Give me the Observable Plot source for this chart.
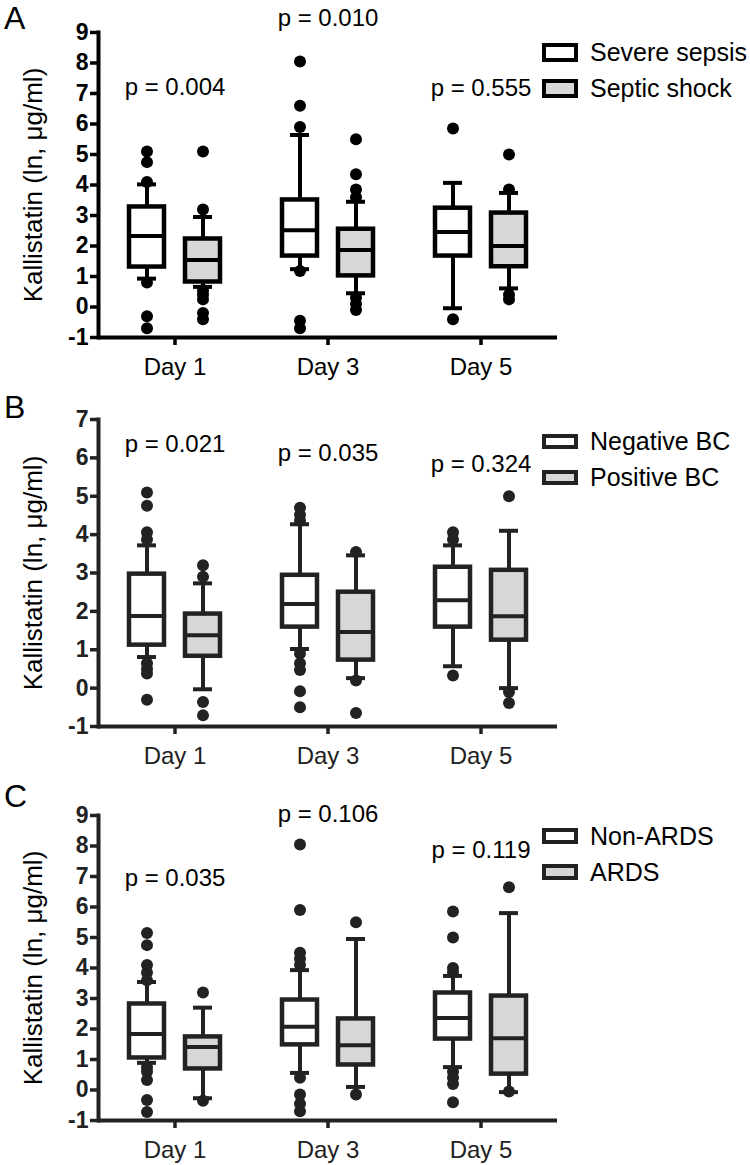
<!DOCTYPE html>
<html>
<head>
<meta charset="utf-8">
<script src="https://cdn.jsdelivr.net/npm/d3@7"></script>
<script src="https://cdn.jsdelivr.net/npm/@observablehq/plot@0.6"></script>
<style>
  body { margin: 0; background: #fff; font-family: "Liberation Sans", Arial, sans-serif; }
  #page { position: relative; width: 750px; height: 1165px; overflow: hidden; background: #fff; }
  .panel { position: absolute; left: 0; }
  .letter { position: absolute; left: 4px; font-size: 32px; line-height: 1; color: #000; }
  .leg { position: absolute; left: 542px; display: flex; align-items: center; height: 30px; font-size: 25px; line-height: 1; color: #000; white-space: nowrap; }
  .sw { box-sizing: border-box; border: 4px solid #000; margin-right: 12px; }
</style>
</head>
<body>
<div id="page"></div>
<script>
// ---------- data ----------
const days = ["Day 1", "Day 3", "Day 5"];
const yTitle = "Kallistatin (ln, μg/ml)";

// order of every stats array: Day1-g1, Day1-g2, Day3-g1, Day3-g2, Day5-g1, Day5-g2
// Panel A
const groupsA = ["Severe sepsis", "Septic shock"];
const q1A  = [1.31, 0.82, 1.67, 1.02, 1.67, 1.32];
const medA = [2.33, 1.54, 2.52, 1.87, 2.46, 2.00];
const q3A  = [3.28, 2.23, 3.51, 2.55, 3.24, 3.08];
const loA  = [0.93, 0.66, 1.24, 0.45, -0.04, 0.61];
const hiA  = [4.02, 2.95, 5.64, 3.45, 4.07, 3.74];
const outA = [
  [5.1, 4.75, 4.1, 0.8, -0.3, -0.7],
  [5.1, 3.2, 0.55, 0.4, 0.25, -0.2, -0.4],
  [8.05, 6.6, 5.9, 1.18, -0.45, -0.7],
  [5.5, 4.35, 3.85, 3.6, 0.3, 0.1, -0.1],
  [5.85, -0.4],
  [5.0, 3.85, 0.4, 0.25]
];
const pA = ["p = 0.004", "p = 0.010", "p = 0.555"];
const yTicksA = [-1, 0, 1, 2, 3, 4, 5, 6, 7, 8, 9];

// Panel B
const groupsB = ["Negative BC", "Positive BC"];
const q1B  = [1.12, 0.83, 1.59, 0.73, 1.59, 1.25];
const medB = [1.88, 1.38, 2.19, 1.46, 2.29, 1.87];
const q3B  = [2.97, 1.93, 2.94, 2.50, 3.15, 3.07];
const loB  = [0.81, -0.03, 1.02, 0.26, 0.57, 0.0];
const hiB  = [3.72, 2.73, 4.27, 3.46, 3.72, 4.10];
const outB = [
  [5.1, 4.75, 4.06, 3.87, 0.65, 0.5, 0.38, -0.3],
  [3.2, 2.9, -0.36, -0.71],
  [4.7, 4.52, 4.36, 0.9, 0.65, 0.47, -0.08, -0.5],
  [3.55, 0.2, -0.65],
  [4.06, 3.87, 0.33],
  [5.0, -0.1, -0.39]
];
const pB = ["p = 0.021", "p = 0.035", "p = 0.324"];
const yTicksB = [-1, 0, 1, 2, 3, 4, 5, 6, 7];

// Panel C
const groupsC = ["Non-ARDS", "ARDS"];
const q1C  = [1.05, 0.69, 1.48, 0.82, 1.67, 0.52];
const medC = [1.84, 1.41, 2.07, 1.47, 2.36, 1.70];
const q3C  = [2.82, 1.74, 2.95, 2.33, 3.18, 3.08];
const loC  = [0.89, -0.27, 0.56, 0.10, 0.75, -0.07];
const hiC  = [3.54, 2.70, 3.93, 4.95, 3.74, 5.80];
const outC = [
  [5.15, 4.75, 4.1, 3.85, 3.6, 0.75, 0.6, 0.33, -0.33, -0.72],
  [3.2, -0.35],
  [8.05, 5.9, 4.5, 4.3, 4.1, 0.4, -0.15, -0.45, -0.7],
  [5.5, -0.15],
  [5.85, 5.0, 4.0, 3.85, 0.6, 0.4, 0.2, -0.4],
  [6.65, -0.05]
];
const pC = ["p = 0.035", "p = 0.106", "p = 0.119"];
const yTicksC = [-1, 0, 1, 2, 3, 4, 5, 6, 7, 8, 9];

// ---------- layout (positions / styles) ----------
const boxFills = ["#ffffff", "#d6d7d8"];
const panels = [
  {letter: "A", top: 0, height: 387, marginTop: 32, marginBottom: 50, ink: "#000000",
   groups: groupsA, q1: q1A, med: medA, q3: q3A, lo: loA, hi: hiA, out: outA, p: pA, pY: [7.21, 9.46, 7.17],
   yTicks: yTicksA, letterTop: 2, legend: [52.5, 88.5], swH: 19},
  {letter: "B", top: 387, height: 389, marginTop: 32, marginBottom: 50, ink: "#222222",
   groups: groupsB, q1: q1B, med: medB, q3: q3B, lo: loB, hi: hiB, out: outB, p: pB, pY: [6.36, 6.11, 5.82],
   yTicks: yTicksB, letterTop: 391, legend: [441, 477], swH: 15},
  {letter: "C", top: 776, height: 389, marginTop: 39, marginBottom: 45, ink: "#222222",
   groups: groupsC, q1: q1C, med: medC, q3: q3C, lo: loC, hi: hiC, out: outC, p: pC, pY: [6.93, 9.05, 7.87],
   yTicks: yTicksC, letterTop: 780, legend: [836, 872], swH: 16}
];

const page = document.getElementById("page");

for (const P of panels) {
  const stats = [];
  const outliers = [];
  days.forEach((day, i) => P.groups.forEach((group, j) => {
    const k = i * 2 + j;
    stats.push({day, group, q1: P.q1[k], med: P.med[k], q3: P.q3[k], lo: P.lo[k], hi: P.hi[k]});
    for (const v of P.out[k]) outliers.push({day, group, v});
  }));
  const pRows = days.map((day, i) => ({day, label: P.p[i], y: P.pY[i]}));
  const yDomain = [P.yTicks[0], P.yTicks[P.yTicks.length - 1]];

  const chart = Plot.plot({
    width: 750,
    height: P.height,
    marginLeft: 97,
    marginRight: 192,
    marginTop: P.marginTop,
    marginBottom: P.marginBottom,
    style: {fontFamily: "'Liberation Sans', Arial, sans-serif", background: "#fff", color: "#000"},
    fx: {domain: days, padding: 0, label: null},
    x: {domain: P.groups, paddingInner: 0.368, paddingOuter: 0.532, axis: null},
    y: {domain: yDomain, label: null},
    color: {domain: P.groups, range: boxFills},
    marks: [
      Plot.ruleY([yDomain[0]], {stroke: P.ink, strokeWidth: 4}),
      Plot.frame({anchor: "left", facetAnchor: "left", stroke: P.ink, strokeWidth: 4}),
      Plot.axisY({ticks: P.yTicks, tickSize: 8, tickPadding: 2, tickFormat: d => String(d),
                  fontSize: 23, fontWeight: "bold", color: P.ink, strokeWidth: 3.5, label: null}),
      Plot.axisFx({anchor: "bottom", tickSize: 8, tickPadding: 12, fontSize: 24, color: P.ink,
                   strokeWidth: 3.5, label: null}),
      Plot.ruleX(stats, {fx: "day", x: "group", y1: "q3", y2: "hi", stroke: P.ink, strokeWidth: 4}),
      Plot.ruleX(stats, {fx: "day", x: "group", y1: "lo", y2: "q1", stroke: P.ink, strokeWidth: 4}),
      Plot.tickY(stats, {fx: "day", x: "group", y: "hi", stroke: P.ink, strokeWidth: 4, insetLeft: 8, insetRight: 8}),
      Plot.tickY(stats, {fx: "day", x: "group", y: "lo", stroke: P.ink, strokeWidth: 4, insetLeft: 8, insetRight: 8}),
      Plot.barY(stats, {fx: "day", x: "group", y1: "q1", y2: "q3", fill: "group", stroke: P.ink, strokeWidth: 4.5}),
      Plot.tickY(stats, {fx: "day", x: "group", y: "med", stroke: P.ink, strokeWidth: 4}),
      Plot.dot(outliers, {fx: "day", x: "group", y: "v", r: 6, fill: P.ink, stroke: "none"}),
      Plot.text(pRows, {fx: "day", y: "y", text: "label", fontSize: 24, fill: "#000"}),
      Plot.text([yTitle], {frameAnchor: "left", facetAnchor: "left", rotate: -90, dx: -65,
                           textAnchor: "middle", fontSize: 26, fill: "#000"})
    ]
  });

  const wrap = document.createElement("div");
  wrap.className = "panel";
  wrap.style.top = P.top + "px";
  wrap.appendChild(chart);
  page.appendChild(wrap);

  const L = document.createElement("div");
  L.className = "letter";
  L.style.top = P.letterTop + "px";
  L.textContent = P.letter;
  page.appendChild(L);

  P.groups.forEach((g, j) => {
    const row = document.createElement("div");
    row.className = "leg";
    row.style.top = (P.legend[j] - 15) + "px";
    const sw = document.createElement("div");
    sw.className = "sw";
    sw.style.width = "36px";
    sw.style.height = P.swH + "px";
    sw.style.background = boxFills[j];
    sw.style.borderColor = P.ink;
    const t = document.createElement("span");
    t.textContent = g;
    row.appendChild(sw);
    row.appendChild(t);
    page.appendChild(row);
  });
}
</script>
</body>
</html>
